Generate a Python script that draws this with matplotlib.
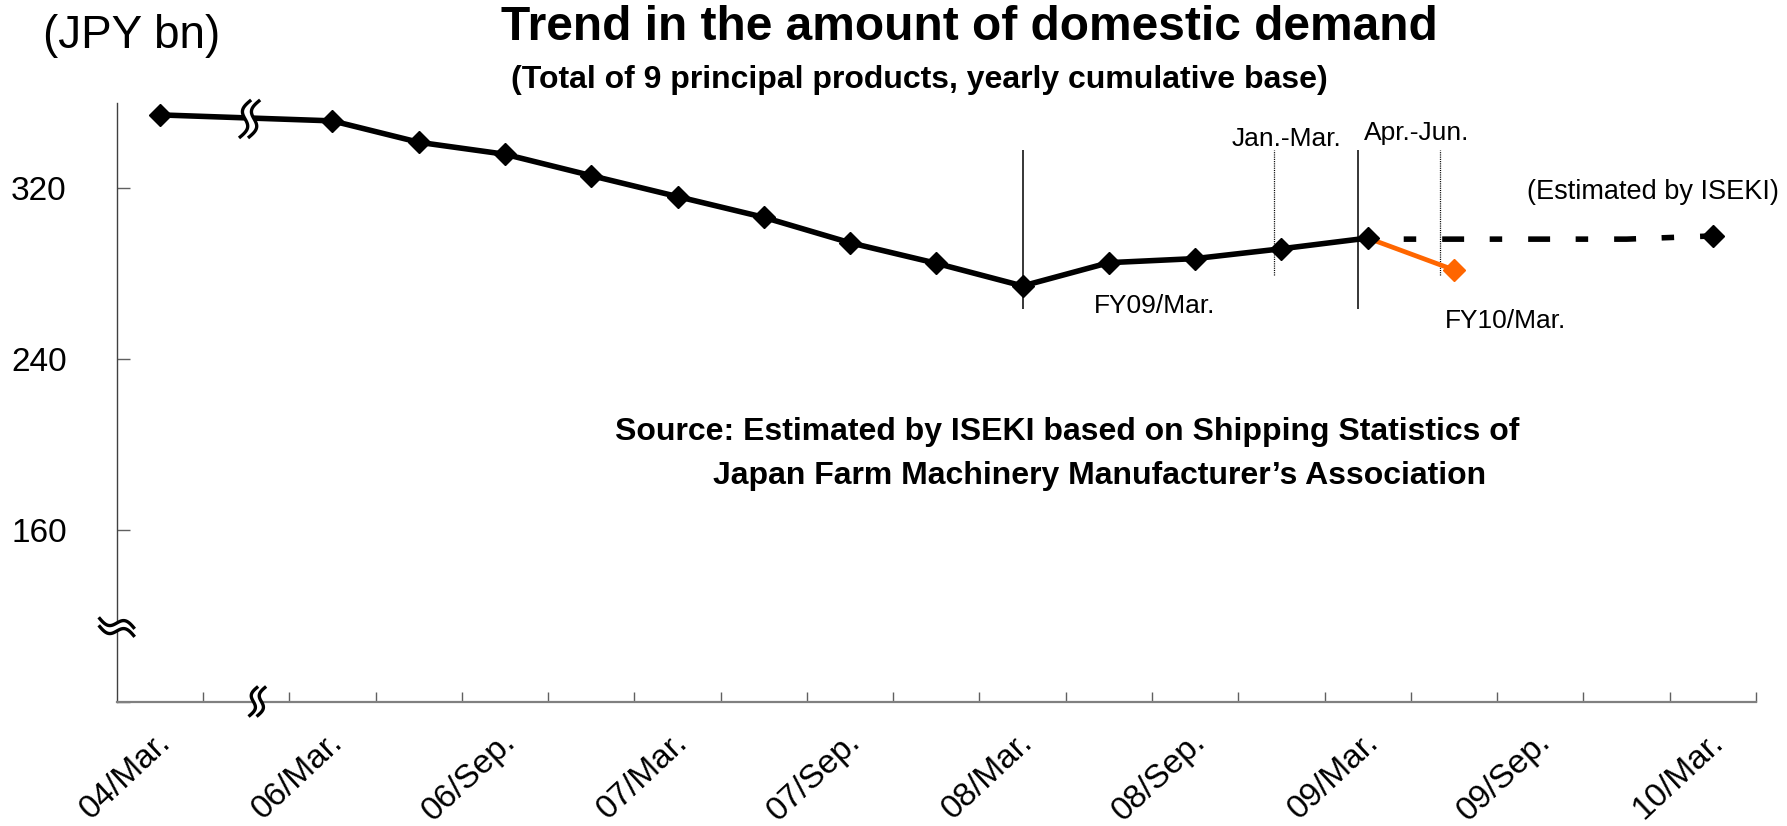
import numpy as np
import matplotlib.pyplot as plt
import matplotlib.transforms as mtransforms
from matplotlib.patches import Polygon
from matplotlib.lines import Line2D

plt.rcParams.update({"font.family": "Liberation Sans", "lines.scale_dashes": False})

# quarterly category axis; slot 1 is the collapsed 04/Jun.-05/Dec. stretch (axis break)
tick_pos = [0, 2, 4, 6, 8, 10, 12, 14, 16, 18]
tick_labels = ["04/Mar.", "06/Mar.", "06/Sep.", "07/Mar.", "07/Sep.",
               "08/Mar.", "08/Sep.", "09/Mar.", "09/Sep.", "10/Mar."]

# actual domestic demand (JPY bn)
actual_x = [0, 2, 3, 4, 5, 6, 7, 8, 9, 10, 11, 12, 13, 14]
actual_y = [354.3, 351.5, 341.5, 335.9, 325.9, 316.1, 306.4, 294.5, 284.9,
            274.3, 285.2, 287.1, 291.7, 296.7]
# FY10 first quarter result
q1_x = [14, 15]
q1_y = [296.7, 281.8]
# ISEKI estimate for FY10/Mar.
est_x = [14, 17, 18]
est_y = [296.2, 296.2, 297.7]

W, H = 1787, 826
fig = plt.figure(figsize=(W / 100, H / 100), dpi=100)
ax = fig.add_axes([116.7 / W, 1 - 701.5 / H, 1639.3 / W, 598.8 / H])

ORANGE = "#FF6600"
ax.plot(est_x, est_y, color="black", lw=4.0, ls=(36, (9, 18.7, 15.8, 18.4)), zorder=3)
ax.plot(est_x[-1:], est_y[-1:], "D", color="black", ms=11.5, zorder=5)
ax.plot(q1_x, q1_y, color=ORANGE, lw=3.4, zorder=4)
ax.plot(q1_x[-1:], q1_y[-1:], "D", color=ORANGE, ms=11.5, zorder=4)
ax.plot(actual_x, actual_y, color="black", lw=4.0, marker="D", ms=11.5, zorder=5)

# fiscal-year separators and quarter guides
ax.vlines([10, 13.89], 263.4, 337.9, color="black", lw=1.1, zorder=2)
ax.vlines([12.91, 14.84], 279.4, 337.9, color="black", lw=0.9, linestyles=(0, (0.8, 0.8)), zorder=2)

ax.text(13.06, 343.1, "Jan.-Mar.", fontsize=19, ha="center", va="center")
ax.text(14.57, 345.6, "Apr.-Jun.", fontsize=19, ha="center", va="center")
ax.text(17.30, 318.2, "(Estimated by ISEKI)", fontsize=19.5, ha="center", va="center")
ax.text(11.53, 264.9, "FY09/Mar.", fontsize=19, ha="center", va="center")
ax.text(15.60, 257.9, "FY10/Mar.", fontsize=19, ha="center", va="center")


def wave_break(xd, yd, h, gap, rot=0, lw=2.4):
    # two parallel S strokes with white between them, sized in pixels
    t = np.linspace(-1, 1, 80)
    px = 0.16 * h * t - 0.14 * h * np.sin(np.pi * t)
    py = 0.5 * h * t
    s1 = np.column_stack([px - gap / 2, py])
    s2 = np.column_stack([px + gap / 2, py])
    tr = mtransforms.Affine2D().rotate_deg(rot) + mtransforms.ScaledTranslation(xd, yd, ax.transData)
    ax.add_patch(Polygon(np.vstack([s1, s2[::-1]]), closed=True, fc="white", ec="none",
                         transform=tr, zorder=8, clip_on=False))
    for s in (s1, s2):
        ax.add_artist(Line2D(s[:, 0], s[:, 1], transform=tr, color="black", lw=lw,
                             zorder=9, clip_on=False, solid_capstyle="butt"))


wave_break(1.04, 352.4, 38, 9)
wave_break(1.13, 80, 30, 8)
wave_break(-0.5, 114.8, 36, 8, rot=90)

ax.set_xlim(-0.5, 18.5)
ax.set_ylim(80, 360)
for s in ("top", "right"):
    ax.spines[s].set_visible(False)
ax.spines["left"].set_color("#404040")
ax.spines["left"].set_linewidth(1.0)
ax.spines["bottom"].set_color("#808080")
ax.spines["bottom"].set_linewidth(1.6)

ax.set_yticks([80, 160, 240, 320], ["", "160", "240", "320"])
ax.tick_params(axis="y", direction="in", length=9.4, width=1, color="#606060",
               labelsize=24, pad=36)
ax.set_xticks(tick_pos, tick_labels)
ax.set_xticks(np.arange(0.5, 19, 1), minor=True)
ax.tick_params(axis="x", which="major", length=0, labelsize=24, pad=26)
ax.tick_params(axis="x", which="minor", direction="in", length=7, width=1, color="#606060")
shift = mtransforms.ScaledTranslation(0.06, 0, fig.dpi_scale_trans)
for lab in ax.get_xticklabels():
    lab.set_rotation(43)
    lab.set_rotation_mode("anchor")
    lab.set_ha("right")
    lab.set_va("center")
    lab.set_transform(lab.get_transform() + shift)

fig.text(43 / W, 1 - 36 / H, "(JPY bn)", fontsize=33, ha="left", va="center")
fig.text(969 / W, 1 - 27 / H, "Trend in the amount of domestic demand", fontsize=34.5,
         weight="bold", ha="center", va="center")
fig.text(919 / W, 1 - 80 / H, "(Total of 9 principal products, yearly cumulative base)",
         fontsize=23, weight="bold", ha="center", va="center")
fig.text(615 / W, 1 - 432 / H, "Source: Estimated by ISEKI based on Shipping Statistics of",
         fontsize=23, weight="bold", ha="left", va="center")
fig.text(713 / W, 1 - 476 / H, "Japan Farm Machinery Manufacturer\u2019s Association",
         fontsize=23, weight="bold", ha="left", va="center")

fig.savefig("out.png", dpi=100)
